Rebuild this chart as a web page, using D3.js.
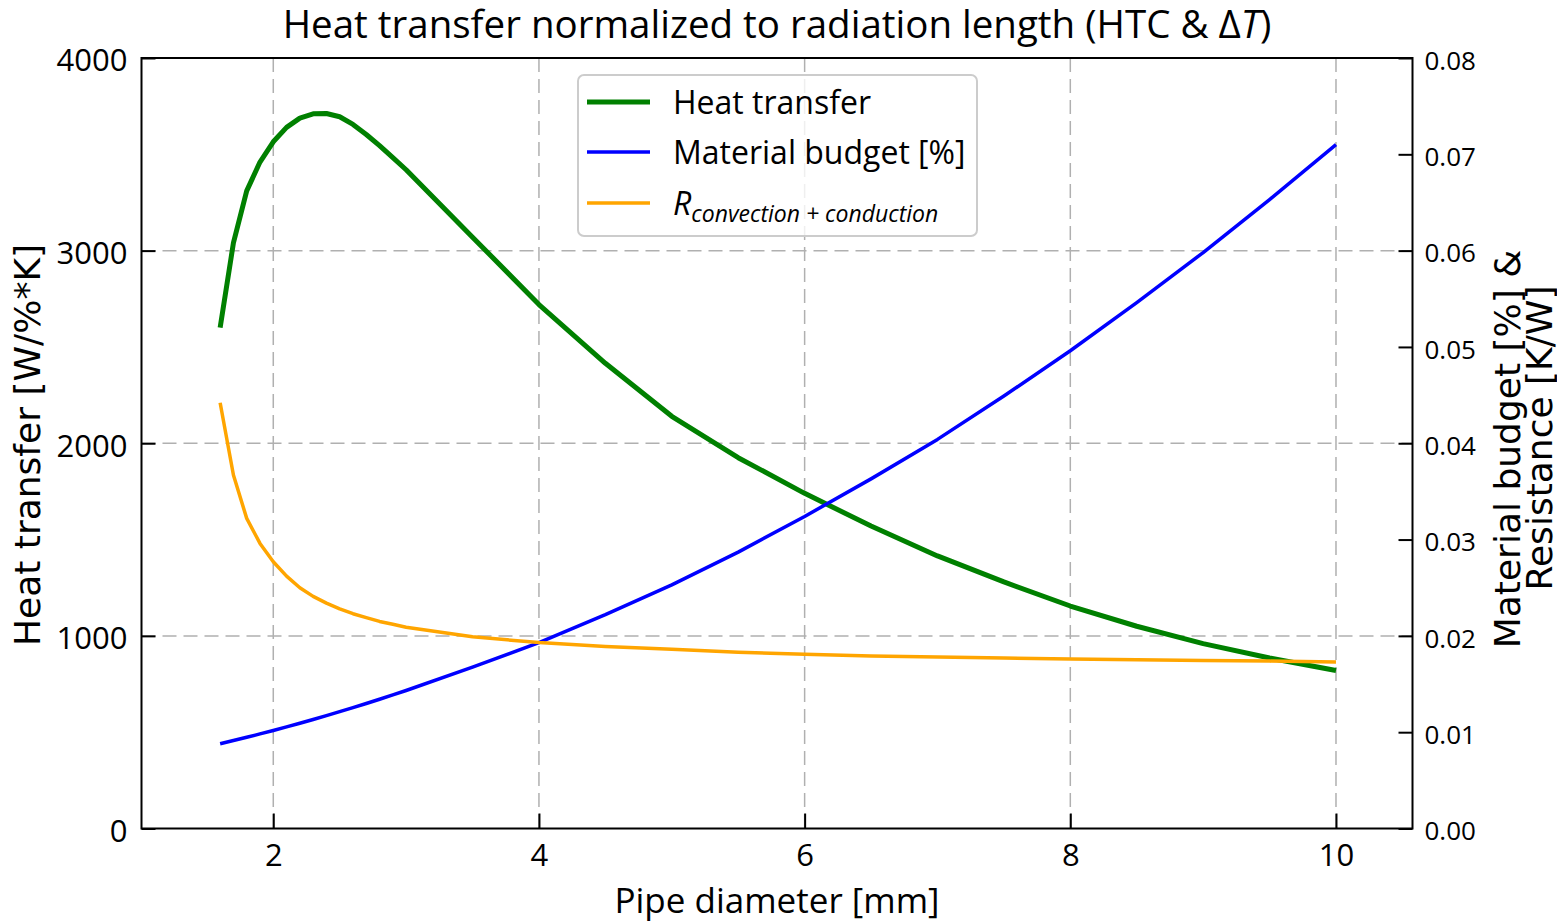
<!DOCTYPE html>
<html><head><meta charset="utf-8">
<script src="https://cdn.jsdelivr.net/npm/d3@7"></script>
<style>
html,body{margin:0;padding:0;background:#fff;}
svg{display:block;font-family:"Open Sans",sans-serif;}
</style></head>
<body>
<svg id="chart" width="1557" height="922"></svg>
<script>
// ---- data ----
const diameters = [1.6,1.7,1.8,1.9,2.0,2.1,2.2,2.3,2.4,2.5,2.6,2.7,2.8,2.9,3.0,3.5,4.0,4.5,5.0,5.5,6.0,6.5,7.0,7.5,8.0,8.5,9.0,9.5,10.0];
const heatTransfer = [2600,3040,3310,3460,3565,3640,3688,3710,3712,3695,3655,3603,3545,3483,3420,3070,2720,2415,2140,1925,1740,1570,1415,1280,1155,1050,960,885,820];
const materialBudget = [0.00880,0.00913,0.00947,0.00982,0.01018,0.01055,0.01093,0.01132,0.01172,0.01213,0.01255,0.01298,0.01342,0.01387,0.01433,0.01675,0.0193,0.0222,0.0253,0.0287,0.0324,0.0363,0.0404,0.0449,0.0496,0.0546,0.0598,0.0653,0.0710];
const resistance = [0.0442,0.0367,0.0322,0.0296,0.0277,0.0262,0.0250,0.0241,0.0234,0.0228,0.0223,0.0219,0.0215,0.0212,0.0209,0.0199,0.0193,0.0189,0.0186,0.0183,0.0181,0.0179,0.0178,0.0177,0.0176,0.01753,0.01745,0.01738,0.0173];
const xTicks = [2,4,6,8,10];
const yLeftTicks = [0,1000,2000,3000,4000];
const yRightTicks = [0,0.01,0.02,0.03,0.04,0.05,0.06,0.07,0.08];
const seriesNames = ["Heat transfer","Material budget [%]"];

// ---- layout ----
const L = 141.5, R = 1412.5, T = 58, B = 828.5;
const svg = d3.select("#chart");
const x = d3.scaleLinear().domain([1.008,10.576]).range([L,R]);
const yL = d3.scaleLinear().domain([0,4000]).range([B,T]);
const yR = d3.scaleLinear().domain([0,0.08]).range([B,T]);

// grid
const grid = svg.append("g").attr("stroke","#b0b0b0").attr("stroke-width",1.5).attr("stroke-dasharray","14,7");
grid.selectAll("line.gx").data(xTicks).join("line")
  .attr("x1",d=>x(d)).attr("x2",d=>x(d)).attr("y1",T).attr("y2",B);
grid.selectAll("line.gy").data(yLeftTicks.filter(d=>d>0&&d<4000)).join("line")
  .attr("class","gy").attr("x1",L).attr("x2",R).attr("y1",d=>yL(d)).attr("y2",d=>yL(d));

// lines
const pts = diameters.map((d,i)=>({d,h:heatTransfer[i],m:materialBudget[i],r:resistance[i]}));
const lineH = d3.line().x(p=>x(p.d)).y(p=>yL(p.h));
const lineM = d3.line().x(p=>x(p.d)).y(p=>yR(p.m));
const lineRr = d3.line().x(p=>x(p.d)).y(p=>yR(p.r));
svg.append("path").datum(pts).attr("d",lineH).attr("fill","none").attr("stroke","#008000").attr("stroke-width",5).attr("stroke-linejoin","round");
svg.append("path").datum(pts).attr("d",lineM).attr("fill","none").attr("stroke","#0000ff").attr("stroke-width",3.5).attr("stroke-linejoin","round");
svg.append("path").datum(pts).attr("d",lineRr).attr("fill","none").attr("stroke","#ffa500").attr("stroke-width",3.5).attr("stroke-linejoin","round");

// axes
const axL = d3.axisLeft(yL).tickValues(yLeftTicks).tickFormat(d3.format("d")).tickSize(-14).tickPadding(14);
const axB = d3.axisBottom(x).tickValues(xTicks).tickFormat(d3.format("d")).tickSize(-15).tickPadding(15);
const axR = d3.axisRight(yR).tickValues(yRightTicks).tickFormat(d3.format(".2f")).tickSize(-14).tickPadding(28);
function style(g,fs){
  g.select(".domain").remove();
  g.selectAll(".tick line").attr("stroke","#000").attr("stroke-width",2);
  g.selectAll(".tick text").attr("fill","#000").style("font-size",fs+"px").style("font-family","'Open Sans',sans-serif");
}
svg.append("g").attr("transform",`translate(${L},0)`).call(axL).call(g=>style(g,31))
  .call(g=>g.selectAll(".tick text").attr("y",3));
svg.append("g").attr("transform",`translate(0,${B})`).call(axB).call(g=>style(g,31));
svg.append("g").attr("transform",`translate(${R},0)`).call(axR).call(g=>style(g,26))
  .call(g=>g.selectAll(".tick text").attr("x",12).attr("y",3));

// frame
svg.append("rect").attr("x",L).attr("y",T).attr("width",R-L).attr("height",B-T)
  .attr("fill","none").attr("stroke","#000").attr("stroke-width",2);

// title
const title = svg.append("text").attr("x",(L+R)/2).attr("y",38).attr("text-anchor","middle")
  .style("font-size","38.5px").attr("fill","#000");
title.append("tspan").text("Heat transfer normalized to radiation length (HTC & \u0394");
title.append("tspan").attr("font-style","italic").text("T");
title.append("tspan").text(")");

// axis labels
svg.append("text").attr("x",(L+R)/2).attr("y",913).attr("text-anchor","middle")
  .style("font-size","35px").text("Pipe diameter [mm]");
svg.append("text").attr("transform",`translate(40,445) rotate(-90)`).attr("text-anchor","middle")
  .style("font-size","36px").style("font-family","'DejaVu Sans',sans-serif").text("Heat transfer [W/%*K]");
const rl = svg.append("text").attr("transform",`translate(1520,443) rotate(-90)`).attr("text-anchor","middle")
  .style("font-size","36px").style("font-family","'DejaVu Sans',sans-serif");
rl.append("tspan").attr("x",-6).attr("y",0).text("Material budget [%] &");
rl.append("tspan").attr("x",5).attr("y",32).text("Resistance [K/W]");

// legend
const lg = svg.append("g");
lg.append("rect").attr("x",578).attr("y",75).attr("width",399).attr("height",161).attr("rx",6)
  .attr("fill","#fff").attr("fill-opacity",0.8).attr("stroke","#cccccc").attr("stroke-width",2);
const legendItems = [
  {name:seriesNames[0], color:"#008000", w:5, y:102},
  {name:seriesNames[1], color:"#0000ff", w:3.5, y:152},
  {name:null, color:"#ffa500", w:3.5, y:203}
];
legendItems.forEach(it=>{
  lg.append("line").attr("x1",587).attr("x2",650).attr("y1",it.y).attr("y2",it.y)
    .attr("stroke",it.color).attr("stroke-width",it.w);
  if(it.name){
    lg.append("text").attr("x",673).attr("y",it.y+12).style("font-size","32px").text(it.name);
  } else {
    const t = lg.append("text").attr("x",673).attr("y",it.y+12).style("font-size","32px").attr("font-style","italic");
    t.append("tspan").text("R");
    t.append("tspan").attr("dy",7).style("font-size","23px").text("convection + conduction");
  }
});
</script>
</body></html>
